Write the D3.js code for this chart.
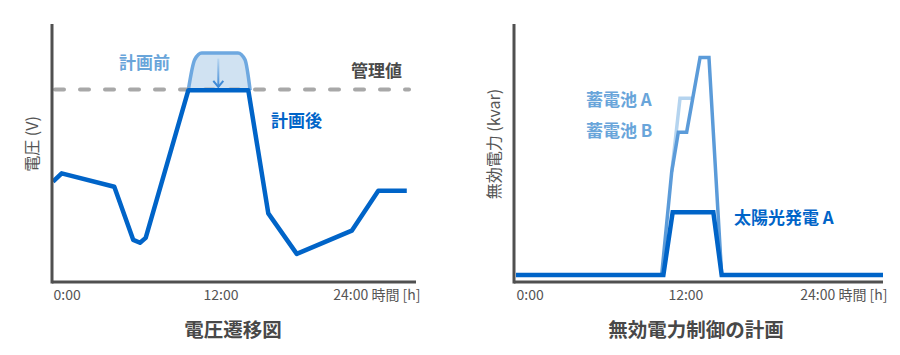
<!DOCTYPE html>
<html>
<head>
<meta charset="utf-8">
<script src="https://cdn.jsdelivr.net/npm/d3@7"></script>
<style>
  body { margin: 0; background: #fff; }
  svg { display: block; font-family: "Noto Sans CJK JP", "Noto Sans", sans-serif; }
</style>
</head>
<body>
<svg></svg>
<script>
var width = 900;
var height = 355;

// shared time axis
var tickHours = [0, 12, 24];
var tickLabels = ["0:00", "12:00", "24:00 時間 [h]"];

// left chart: voltage
var voltHours = [0, 0.62, 4.39, 5.75, 6.23, 6.64, 9.69, 13.99, 15.42, 17.46, 21.4, 23.3, 25.34];
var voltAfter = [38.9, 42.1, 36.9, 16.3, 15.2, 17.1, 74.3, 74.3, 26.6, 10.9, 19.9, 35.4, 35.4];
var beforeHours = [9.69, 10.15, 10.65, 13.25, 13.75, 14.12];
var beforeVals = [74.3, 86.2, 88.8, 88.8, 86.2, 74.3];
var controlValue = 74.6;
var arrowHour = 11.84;
var arrowVals = [86.6, 75.6];

// right chart: reactive power
var solarHours = [0, 10.44, 11.1, 13.98, 14.57, 26];
var solarVals = [0, 0, 25, 25, 0, 0];
var battBHours = [10.32, 11.03, 11.5, 12.09, 13.04, 13.67, 14.57];
var battBVals = [0, 41, 56.9, 56.9, 86.7, 86.7, 0];
var battAHours = [11.03, 11.62, 12.52];
var battAVals = [41, 70.4, 70.4];

var axisColor = "#505050";
var textColor = "#555";
var darkBlue = "#0064c8";
var midBlue = "#5b9bd9";
var lightBlue = "#b5d4ef";
var labelBlue = "#69a5da";

var svg = d3.select("svg")
  .attr("width", width)
  .attr("height", height);

var defs = svg.append("defs");

function drawAxes(g, x, y, x0, yLabel, yLabelX, title, titleX) {
  var xAxis = d3.axisBottom(x)
    .tickValues(tickHours)
    .tickSize(0)
    .tickSizeOuter(0)
    .tickPadding(8)
    .tickFormat(function(d, i) { return tickLabels[i]; });

  var gx = g.append("g")
    .attr("transform", "translate(0," + y.range()[0] + ")")
    .call(xAxis);
  gx.select(".domain")
    .attr("d", "M" + x0 + ",0H" + x.range()[1])
    .attr("stroke", axisColor)
    .attr("stroke-width", 3);
  gx.selectAll("text")
    .attr("fill", textColor)
    .attr("font-size", 14)
    .attr("font-family", "'Noto Sans CJK JP', 'Noto Sans', sans-serif")
    .attr("text-anchor", function(d, i) { return i == 0 ? "start" : (i == 2 ? "end" : "middle"); })
    .attr("x", function(d, i) { return i == 2 ? x.range()[1] - x(d) + 4 : 0; });

  var yAxis = d3.axisLeft(y).tickValues([]).tickSizeOuter(0);
  var gy = g.append("g")
    .attr("transform", "translate(" + x0 + ",0)")
    .call(yAxis);
  gy.select(".domain")
    .attr("d", "M0," + (y.range()[0] + 1.5) + "V" + y.range()[1])
    .attr("stroke", axisColor)
    .attr("stroke-width", 3);

  g.append("text")
    .attr("transform", "translate(" + yLabelX + ",144) rotate(-90)")
    .attr("text-anchor", "middle")
    .attr("dy", "0.35em")
    .attr("font-size", 16)
    .attr("fill", textColor)
    .text(yLabel);

  g.append("text")
    .attr("x", titleX)
    .attr("y", 337)
    .attr("text-anchor", "middle")
    .attr("font-size", 19.5)
    .attr("font-weight", "bold")
    .attr("fill", "#484848")
    .text(title);
}

function label(g, x, y, txt, color, anchor) {
  g.append("text")
    .attr("x", x)
    .attr("y", y)
    .attr("text-anchor", anchor || "start")
    .attr("font-size", 17)
    .attr("font-weight", "bold")
    .attr("fill", color)
    .text(txt);
}

// ---------- left chart ----------
var left = svg.append("g");

var xL = d3.scaleLinear().domain([0, 26]).range([53, 416]);
var yL = d3.scaleLinear().domain([0, 100]).range([282, 24]);

var beforeData = d3.zip(beforeHours, beforeVals);
var afterData = d3.zip(voltHours, voltAfter);

var beforeArea = d3.area()
  .x(function(d) { return xL(d[0]); })
  .y0(yL(controlValue))
  .y1(function(d) { return yL(d[1]); })
  .curve(d3.curveMonotoneX);

left.append("path")
  .attr("d", beforeArea(beforeData))
  .attr("fill", "#d0e2f2");

left.append("path")
  .attr("d", d3.line()
    .x(function(d) { return xL(d[0]); })
    .y(function(d) { return yL(d[1]); })
    .curve(d3.curveMonotoneX)(beforeData))
  .attr("fill", "none")
  .attr("stroke", "#6ea8e0")
  .attr("stroke-width", 3.5);

left.append("line")
  .attr("x1", xL(0) + 2)
  .attr("x2", xL(25.5))
  .attr("y1", yL(controlValue))
  .attr("y2", yL(controlValue))
  .attr("stroke", "#a8a8a8")
  .attr("stroke-width", 4)
  .attr("stroke-linecap", "round")
  .attr("stroke-dasharray", "9,16");

// arrow from before to after
var ax = xL(arrowHour);
var grad = defs.append("linearGradient")
  .attr("id", "arrowGrad")
  .attr("gradientUnits", "userSpaceOnUse")
  .attr("x1", ax).attr("x2", ax)
  .attr("y1", yL(arrowVals[0])).attr("y2", yL(arrowVals[1]));
grad.append("stop").attr("offset", "0%").attr("stop-color", "#b9d6f0");
grad.append("stop").attr("offset", "100%").attr("stop-color", "#3f8ad6");

left.append("line")
  .attr("x1", ax).attr("x2", ax)
  .attr("y1", yL(arrowVals[0])).attr("y2", yL(arrowVals[1]))
  .attr("stroke", "url(#arrowGrad)")
  .attr("stroke-width", 2);
left.append("path")
  .attr("d", "M" + (ax - 5) + "," + (yL(arrowVals[1]) - 6) + "L" + ax + "," + yL(arrowVals[1]) + "L" + (ax + 5) + "," + (yL(arrowVals[1]) - 6))
  .attr("fill", "none")
  .attr("stroke", "#3f8ad6")
  .attr("stroke-width", 2);

left.append("path")
  .attr("d", d3.line()
    .x(function(d) { return xL(d[0]); })
    .y(function(d) { return yL(d[1]); })(afterData))
  .attr("fill", "none")
  .attr("stroke", darkBlue)
  .attr("stroke-width", 4.5)
  .attr("stroke-linejoin", "round");

drawAxes(left, xL, yL, 52, "電圧 (V)", 32, "電圧遷移図", 233);

label(left, 119, 69, "計画前", labelBlue);
label(left, 351, 77, "管理値", "#4a4a4a");
label(left, 271, 127, "計画後", darkBlue);

// ---------- right chart ----------
var right = svg.append("g");

var xR = d3.scaleLinear().domain([0, 26]).range([516, 883]);
var yR = d3.scaleLinear().domain([-2.8, 100]).range([282, 24]);

var lineR = d3.line()
  .x(function(d) { return xR(d[0]); })
  .y(function(d) { return yR(d[1]); });

right.append("path")
  .attr("d", lineR(d3.zip(battAHours, battAVals)))
  .attr("fill", "none")
  .attr("stroke", lightBlue)
  .attr("stroke-width", 3.5);

right.append("path")
  .attr("d", lineR(d3.zip(battBHours, battBVals)))
  .attr("fill", "none")
  .attr("stroke", midBlue)
  .attr("stroke-width", 3.5);

right.append("path")
  .attr("d", lineR(d3.zip(solarHours, solarVals)))
  .attr("fill", "none")
  .attr("stroke", darkBlue)
  .attr("stroke-width", 4.5);

drawAxes(right, xR, yR, 514, "無効電力 (kvar)", 494, "無効電力制御の計画", 696);

label(right, 586, 106, "蓄電池 A", labelBlue);
label(right, 586, 137, "蓄電池 B", labelBlue);
label(right, 734, 224, "太陽光発電 A", darkBlue);
</script>
</body>
</html>
